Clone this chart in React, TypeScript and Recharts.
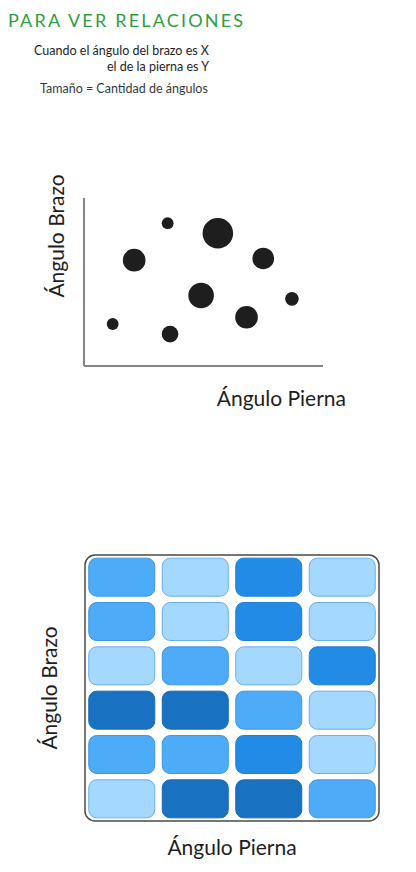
import React from 'react';
import { ScatterChart, Scatter, XAxis, YAxis, ZAxis, ReferenceArea } from 'recharts';

// Bubble chart: leg angle (x), arm angle (y), amount of angles (z)
const legAngle = [12, 35, 21, 56, 75, 49, 87, 36, 68];
const armAngle = [25, 85, 63, 79, 64, 42, 40, 19, 29];
const angleCount = [3, 3, 11, 20, 10, 14, 4, 6, 11];

// Heatmap: 4 leg bins x 6 arm bins, intensity 1..4, top row first
const legBins = [0, 1, 2, 3];
const heatRows = [
  [2, 1, 3, 1],
  [2, 1, 3, 1],
  [1, 2, 1, 3],
  [4, 4, 2, 1],
  [2, 2, 3, 1],
  [1, 4, 4, 2],
];

const FONT = 'Lato, "Noto Sans", sans-serif';
const INK = '#1e1e1e';
const LEVEL_FILL: Record<number, string> = { 1: '#a5d8ff', 2: '#4dabf7', 3: '#228be6', 4: '#1971c2' };
const LEVEL_STROKE: Record<number, string> = { 1: '#6aaeea', 2: '#3f95de', 3: '#1f7dd0', 4: '#1a68b3' };

const bubbles = legAngle.map((x, i) => ({ x, y: armAngle[i], z: angleCount[i] }));

const cells = heatRows.flatMap((row, r) =>
  row.map((level, c) => ({ x: legBins[c], y: heatRows.length - 1 - r, level }))
);

const CellShape = (props: any) => {
  const { cx, cy, payload } = props;
  const w = 66;
  const h = 38;
  return (
    <rect
      x={cx - w / 2}
      y={cy - h / 2}
      width={w}
      height={h}
      rx={8}
      fill={LEVEL_FILL[payload.level]}
      stroke={LEVEL_STROKE[payload.level]}
      strokeWidth={1}
    />
  );
};

const axisTitle = { fontFamily: FONT, fontSize: 21, fill: INK };

const App: React.FC = () => {
  return (
    <div style={{ position: 'absolute', left: 0, top: 0, width: 416, height: 872, background: '#fff', fontFamily: FONT, color: INK }}>
      <div style={{ position: 'absolute', left: 8, top: 9, fontSize: 18, letterSpacing: 2.2, color: '#2f9e44', whiteSpace: 'nowrap' }}>
        PARA VER RELACIONES
      </div>
      <div style={{ position: 'absolute', left: 20, top: 43, fontSize: 12.5, lineHeight: '16px', textAlign: 'right', width: 189, whiteSpace: 'nowrap' }}>
        <div>Cuando el ángulo del brazo es X</div>
        <div>el de la pierna es Y</div>
      </div>
      <div style={{ position: 'absolute', left: 40, top: 81, fontSize: 12.5, color: '#343a40', whiteSpace: 'nowrap' }}>
        Tamaño = Cantidad de ángulos
      </div>

      <div style={{ position: 'absolute', left: 0, top: 150 }}>
        <ScatterChart width={416} height={270} margin={{ top: 48, right: 93, bottom: 4, left: 24 }}>
          <XAxis
            type="number"
            dataKey="x"
            domain={[0, 100]}
            height={50}
            tick={false}
            axisLine={{ stroke: '#868686', strokeWidth: 2 }}
            label={{
              content: ({ viewBox }: any) => (
                <text x={viewBox.x + viewBox.width + 23} y={viewBox.y + 31} textAnchor="end" dominantBaseline="central" style={axisTitle}>
                  Ángulo Pierna
                </text>
              ),
            }}
          />
          <YAxis
            type="number"
            dataKey="y"
            domain={[0, 100]}
            width={60}
            tick={false}
            axisLine={{ stroke: '#868686', strokeWidth: 2 }}
            label={{
              content: ({ viewBox }: any) => {
                const x = viewBox.x + 31;
                const y = viewBox.y + 38;
                return (
                  <text x={x} y={y} transform={`rotate(-90 ${x} ${y})`} textAnchor="middle" dominantBaseline="central" style={axisTitle}>
                    Ángulo Brazo
                  </text>
                );
              },
            }}
          />
          <ZAxis type="number" dataKey="z" domain={[0, 20]} range={[0, 734]} />
          <Scatter data={bubbles} fill={INK} isAnimationActive={false} />
        </ScatterChart>
      </div>

      <div style={{ position: 'absolute', left: 0, top: 540 }}>
        <ScatterChart width={416} height={332} margin={{ top: 15, right: 37, bottom: 6, left: 25 }}>
          <XAxis
            type="number"
            dataKey="x"
            domain={[-0.5, 3.5]}
            height={45}
            tick={false}
            axisLine={false}
            label={{
              content: ({ viewBox }: any) => (
                <text x={viewBox.x + viewBox.width / 2} y={viewBox.y + 25} textAnchor="middle" dominantBaseline="central" style={axisTitle}>
                  Ángulo Pierna
                </text>
              ),
            }}
          />
          <YAxis
            type="number"
            dataKey="y"
            domain={[-0.5, 5.5]}
            width={60}
            tick={false}
            axisLine={false}
            label={{
              content: ({ viewBox }: any) => {
                const x = viewBox.x + 23;
                const y = viewBox.y + viewBox.height / 2;
                return (
                  <text x={x} y={y} transform={`rotate(-90 ${x} ${y})`} textAnchor="middle" dominantBaseline="central" style={axisTitle}>
                    Ángulo Brazo
                  </text>
                );
              },
            }}
          />
          <ReferenceArea
            x1={-0.5}
            x2={3.5}
            y1={-0.5}
            y2={5.5}
            ifOverflow="visible"
            shape={(p: any) => (
              <rect x={p.x} y={p.y} width={p.width} height={p.height} rx={10} fill="none" stroke="#4a4a4a" strokeWidth={1.5} />
            )}
          />
          <Scatter data={cells} shape={CellShape} isAnimationActive={false} />
        </ScatterChart>
      </div>
    </div>
  );
};

export default App;
